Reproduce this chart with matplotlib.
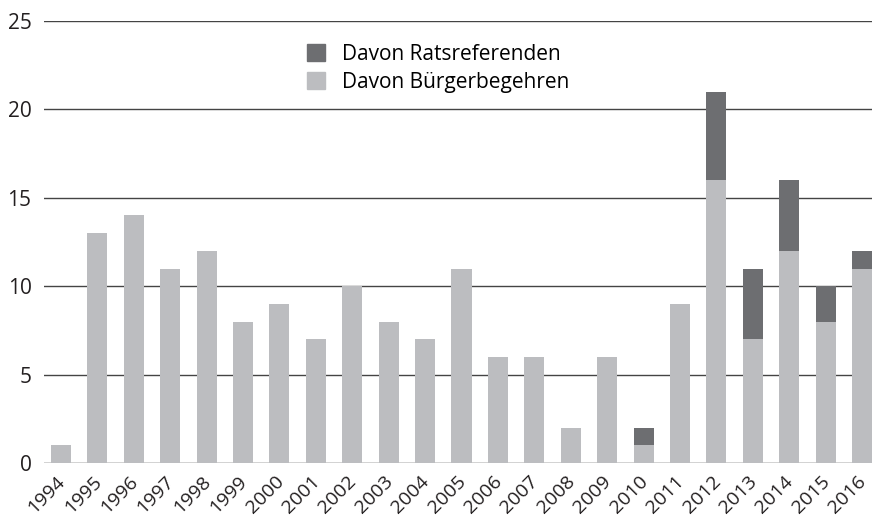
import matplotlib
matplotlib.use("Agg")
import matplotlib.pyplot as plt
import matplotlib.transforms as mtransforms
from matplotlib.patches import Patch

years = [str(y) for y in range(1994, 2017)]
buergerbegehren = [1, 13, 14, 11, 12, 8, 9, 7, 10, 8, 7, 11, 6, 6, 2, 6, 1, 9, 16, 7, 12, 8, 11]
ratsreferenden = [0, 0, 0, 0, 0, 0, 0, 0, 0, 0, 0, 0, 0, 0, 0, 0, 1, 0, 5, 4, 4, 2, 1]
yticks = [0, 5, 10, 15, 20, 25]

light = "#bcbdc0"
dark = "#6d6e71"
textc = "#231f20"

plt.rcParams['font.family'] = ['Open Sans', 'DejaVu Sans']

fig = plt.figure(figsize=(8.72, 5.27), dpi=100)
ax = fig.add_axes([44/872, 64/527, 828/872, (463-21)/527])

x = list(range(len(years)))
ax.bar(x, buergerbegehren, width=0.55, color=light, zorder=3, label="Davon Bürgerbegehren")
ax.bar(x, ratsreferenden, width=0.55, bottom=buergerbegehren, color=dark, zorder=3, label="Davon Ratsreferenden")

ax.set_xlim(-0.467, 22.275)
ax.set_ylim(0, 25)
ax.set_yticks(yticks)
ax.set_yticklabels([str(v) for v in yticks], fontsize=15, color=textc)
for v in yticks:
    ax.axhline(v, color="#444444" if v else "#222222", linewidth=1.0, zorder=1)
ax.set_xticks(x)
ax.set_xticklabels(years, rotation=45, ha='right', va='top', rotation_mode='anchor', fontsize=14, color=textc)
ax.tick_params(axis='both', length=0)
ax.tick_params(axis='y', pad=9)
ax.tick_params(axis='x', pad=7)
offset = mtransforms.ScaledTranslation(-5/100, 0, fig.dpi_scale_trans)
for lbl in ax.get_xticklabels():
    lbl.set_transform(lbl.get_transform() + offset)
for s in ax.spines.values():
    s.set_visible(False)

handles = [Patch(color=dark), Patch(color=light)]
ax.legend(handles, ["Davon Ratsreferenden", "Davon Bürgerbegehren"], loc='upper left',
          bbox_to_anchor=(0.3176, 0.948), frameon=False, fontsize=15,
          borderpad=0, borderaxespad=0,
          handlelength=0.87, handleheight=0.87, handletextpad=0.8, labelspacing=0.34)

fig.savefig("out.png", dpi=100)
